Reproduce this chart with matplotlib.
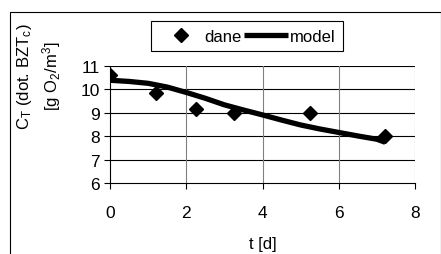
import matplotlib
matplotlib.use("Agg")

import matplotlib.pyplot as plt
from matplotlib.patches import Rectangle

plt.rcParams["font.family"] = ["Liberation Sans", "DejaVu Sans"]
plt.rcParams["mathtext.fontset"] = "custom"
plt.rcParams["mathtext.rm"] = "Liberation Sans"
plt.rcParams["mathtext.it"] = "Liberation Sans"

# measured data
t_dane = [0.0, 1.2, 2.25, 3.25, 5.25, 7.22]
c_dane = [10.6, 9.84, 9.16, 8.99, 8.99, 7.99]

# model curve
t_model = [0.0, 0.5, 1.0, 1.5, 2.0, 2.5, 3.0, 3.5, 4.0, 4.5, 5.0, 5.5, 6.0, 6.5, 7.0, 7.22]
c_model = [10.39, 10.34, 10.26, 10.1, 9.87, 9.62, 9.34, 9.12, 8.91, 8.69, 8.48, 8.31, 8.16, 8.01, 7.87, 7.74]

W, H = 441, 255
fig = plt.figure(figsize=(W / 100, H / 100), dpi=100)
ax = fig.add_axes([110 / W, 1 - 184 / H, 305 / W, 117 / H])

ax.plot(t_model, c_model, color="black", linewidth=3.8, solid_capstyle="butt",
        label="model", zorder=3)
ax.plot(t_dane, c_dane, linestyle="none", marker="D", markersize=7,
        color="black", label="dane", zorder=4)

ax.set_xlim(0, 8)
ax.set_ylim(6, 11)
ax.set_xticks([0, 2, 4, 6, 8])
ax.set_yticks([6, 7, 8, 9, 10, 11])

for y in [7, 8, 9, 10, 11]:
    ax.axhline(y, color="black", linewidth=0.8, zorder=1)
for x in [2, 4, 6, 8]:
    ax.axvline(x, color="#808080", linewidth=0.8, zorder=1)

ax.spines["top"].set_visible(False)
ax.spines["right"].set_visible(False)
ax.spines["left"].set_linewidth(0.8)
ax.spines["bottom"].set_linewidth(0.8)

ax.tick_params(axis="both", direction="out", length=4.5, width=0.8,
               labelsize=12.5, colors="black")
ax.tick_params(axis="x", pad=11)
ax.tick_params(axis="y", pad=3)

handles, labels = ax.get_legend_handles_labels()
leg = fig.legend(handles[::-1], labels[::-1], loc="center",
                 bbox_to_anchor=(247 / W, 1 - 37 / H), ncol=2,
                 fontsize=12, frameon=True, fancybox=False, framealpha=1,
                 edgecolor="black", handlelength=2.6, columnspacing=0.2,
                 handletextpad=0.1, borderpad=0.45, borderaxespad=0)
leg.get_frame().set_linewidth(0.8)

fig.text(24 / W, 1 - 77 / H, r"C$_\mathregular{T}$ (dot. BZT$_\mathregular{c}$)",
         rotation=90, ha="center", va="center", fontsize=12)
fig.text(52 / W, 1 - 76 / H, r"[g O$_\mathregular{2}$/m$^\mathregular{3}$]",
         rotation=90, ha="center", va="center", fontsize=12)
fig.text(263 / W, 1 - 245 / H, "t [d]", ha="center", va="center", fontsize=12)

fig.add_artist(Rectangle((9.5 / W, -0.1), (W - 10) / W, 1 - 13 / H + 0.1,
                         transform=fig.transFigure, fill=False,
                         edgecolor="black", linewidth=0.8))

fig.savefig("out.png", dpi=100)
